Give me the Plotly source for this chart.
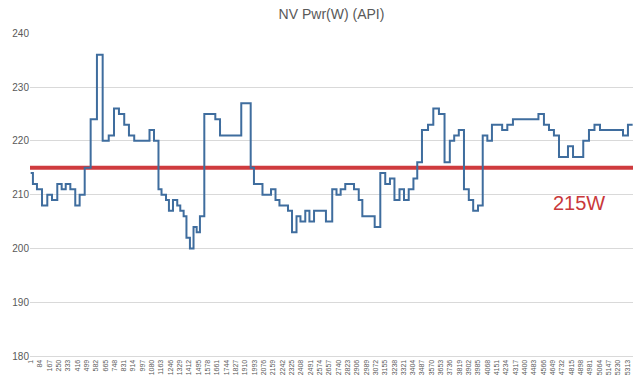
import plotly.graph_objects as go

# sample index where each power level starts, and the level (W)
change_idx = [1, 21, 57, 102, 149, 191, 238, 277, 313, 354, 398, 437, 482, 535, 591, 642, 696, 743,
              787, 834, 876, 923, 1059, 1099, 1139, 1166, 1206, 1232, 1268, 1306, 1333, 1363, 1388,
              1419, 1451, 1479, 1508, 1547, 1645, 1687, 1876, 1960, 1989, 2065, 2141, 2181, 2216,
              2292, 2328, 2368, 2403, 2446, 2483, 2524, 2630, 2686, 2724, 2761, 2802, 2880, 2922,
              2954, 3064, 3114, 3158, 3200, 3240, 3285, 3325, 3367, 3409, 3443, 3485, 3539, 3586,
              3636, 3686, 3733, 3772, 3813, 3859, 3902, 3941, 3984, 4026, 4067, 4108, 4199, 4245,
              4295, 4522, 4571, 4616, 4660, 4705, 4785, 4830, 4921, 4972, 5021, 5070, 5275, 5319]
power_w = [214, 212, 211, 208, 210, 209, 212, 211, 212, 211, 208, 210, 215, 224, 236, 220, 221, 226,
           225, 223, 221, 220, 222, 220, 211, 210, 209, 207, 209, 208, 207, 206, 202,
           200, 204, 203, 206, 225, 224, 221, 227, 215, 212, 210, 211, 209, 208,
           207, 203, 206, 205, 207, 205, 207, 205, 211, 210, 211, 212, 211, 209,
           206, 204, 214, 212, 213, 209, 211, 209, 211, 213, 216, 222, 223, 226,
           225, 216, 220, 221, 222, 211, 209, 207, 208, 221, 220, 223, 222, 223,
           224, 225, 223, 222, 221, 217, 219, 217, 220, 222, 223, 222, 221, 223]
last_idx = 5361
threshold = 215
threshold_label = "215W"
tick_vals = list(range(1, 5314, 83))
tick_text = [str(v) for v in tick_vals]
title = "NV Pwr(W) (API)"

x_min, x_max = -5, 5364

fig = go.Figure()
fig.add_trace(go.Scatter(
    x=[x_min, x_max], y=[threshold, threshold], mode="lines",
    line=dict(color="#CF3B3E", width=4), hoverinfo="skip", showlegend=False))
fig.add_trace(go.Scatter(
    x=change_idx + [last_idx], y=power_w + [power_w[-1]], mode="lines",
    line=dict(color="#3F6D9E", width=2, shape="hv"), showlegend=False))

fig.add_annotation(x=4885, y=208.5, text=threshold_label, showarrow=False,
                   font=dict(family="Liberation Sans, Arial, sans-serif", size=20, color="#C9383B"))

fig.update_layout(
    width=640, height=380,
    margin=dict(l=30, r=7, t=33, b=24, autoexpand=False),
    paper_bgcolor="white", plot_bgcolor="white",
    title=dict(text=title, x=0.5, xref="paper", y=1 - 14 / 380, yref="container", yanchor="middle",
               font=dict(family="Liberation Sans, Arial, sans-serif", size=14, color="#595959")),
    font=dict(family="Liberation Sans, Arial, sans-serif", color="#595959"),
)
fig.update_xaxes(range=[x_min, x_max], tickmode="array", tickvals=tick_vals, ticktext=tick_text,
                 tickangle=-90, tickfont=dict(size=7, color="#595959"), showgrid=False,
                 showline=True, linecolor="#D9D9D9", linewidth=1, zeroline=False, ticks="",
                 automargin=False, ticklabeloverflow="allow")
fig.update_yaxes(range=[180, 240.05], tickmode="array", tickvals=[180, 190, 200, 210, 220, 230, 240],
                 tickfont=dict(size=10, color="#595959"), showgrid=True, gridcolor="#D9D9D9",
                 gridwidth=1, zeroline=False, showline=False, ticks="", automargin=False)

fig.write_html("out.html", config={"displayModeBar": False},
               post_script="document.body.style.margin='0';document.body.style.padding='0';"
                           "document.body.style.overflow='hidden';")
